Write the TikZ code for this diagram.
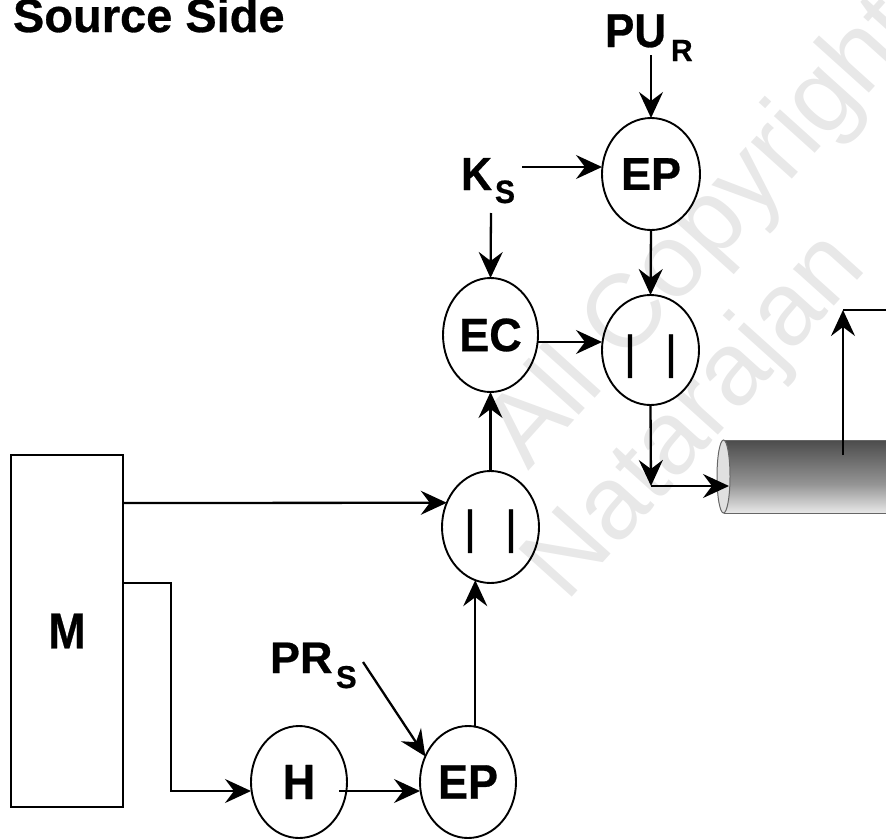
\documentclass[tikz,border=0pt]{standalone}
\usepackage{fontspec}
\setmainfont{Liberation Sans}
\newfontfamily\heavy{Liberation Sans}[BoldFeatures={FakeBold=0.6}]
\newfontfamily\barfont{Liberation Sans}[FakeBold=1.2]
\usetikzlibrary{arrows.meta,shapes.geometric,calc}
\pgfdeclareverticalshading{cylshade}{100bp}{color(0bp)=(black!50); color(8bp)=(black!28); color(22bp)=(black!4); color(45bp)=(black!42); color(80bp)=(black!75); color(100bp)=(black!85)}
\newcommand\lbl[3]{\scalebox{1}[#2]{\fontsize{#1}{#1}\selectfont\heavy\bfseries #3}}
\newcommand\bars[1]{\smash{\raisebox{#1}{\fontsize{46}{46}\selectfont\barfont |\hspace{29pt}|}}}
\begin{document}
\begin{tikzpicture}[x=1pt,y=-1pt,
  lab/.style={inner sep=0pt,outer sep=0pt,anchor=base west},
  circ/.style={draw,ellipse,line width=1.9pt,inner sep=0pt,outer sep=0pt},
  arr/.style={line width=2.3pt,-{Stealth[length=26pt,width=24pt,inset=9pt]}},
  ln/.style={line width=2.3pt},
  wm/.style={text=black!9,inner sep=0pt,anchor=base west,font=\fontsize{104}{104}\selectfont}]
\useasboundingbox (0,0) rectangle (886,838);
% watermark
\node[wm,rotate=48] (wm1) at (528,472) {All Copyright};
\node[wm,rotate=48] (wm2) at (566,604) {Natarajan};
% title
\node[lab] (title) at (13,32) {\lbl{47}{1.0}{Source Side}};
% M box
\node[draw,line width=2.4pt,minimum width=112pt,minimum height=352pt,inner sep=0pt] (M) at (67,631) {\lbl{45}{1.12}{M}};
% ellipses
\node[circ,minimum width=98pt,minimum height=112pt] (EPu) at (651,174) {\lbl{45}{1.02}{EP}};
\node[circ,minimum width=97pt,minimum height=110pt] (ORu) at (650.5,350) {\bars{-18pt}};
\node[circ,minimum width=95pt,minimum height=114pt] (EC) at (490.5,335) {\lbl{45}{1.04}{EC}};
\node[circ,minimum width=97pt,minimum height=112pt] (ORl) at (490.5,527) {\bars{-16pt}};
\node[circ,minimum width=96pt,minimum height=112pt] (H) at (299,782) {\lbl{45}{1.1}{H}};
\node[circ,minimum width=96pt,minimum height=112pt] (EPl) at (468,782) {\lbl{45}{1.08}{EP}};
% labels
\node[lab] (PU) at (605,47) {\lbl{44}{1.08}{PU}};
\node[lab] (PUsub) at (671,61) {\lbl{30}{1.02}{R}};
\node[lab] (K) at (461,190) {\lbl{43}{1.08}{K}};
\node[lab] (Ksub) at (495,203) {\lbl{30}{1.08}{S}};
\node[lab] (PR) at (270,673) {\lbl{45}{0.98}{PR}};
\node[lab] (PRsub) at (336,688) {\lbl{31}{1.02}{S}};
% cylinder
\node[rectangle,inner sep=0pt,outer sep=0pt,minimum width=180pt,minimum height=73pt,anchor=west,shading=cylshade] (cyl) at (723.5,476.5) {};
\draw[black!60,line width=1pt] (cyl.north west) -- (cyl.north east) (cyl.south west) -- (cyl.south east);
\draw[black!60,line width=1pt,fill=black!12] (cyl.west) ellipse [x radius=6.5pt,y radius=36.5pt];
% coordinates
\coordinate (PUa) at (651,55);
\coordinate (Ka) at (522,167);
\coordinate (Kb) at (491,213);
\coordinate (C1) at (651,486);
\coordinate (CylIn) at (729,486);
\coordinate (Up0) at (843,455);
\coordinate (Up1) at (843,310);
\coordinate (Out) at (890,310);
\coordinate (PRa) at (363,662);
\coordinate (Mt) at (123,503);
\coordinate (Mb) at (123,583);
\coordinate (B1) at (171,583);
\coordinate (B2) at (171,791);
\coordinate (Hs) at (339,791);
% connectors
\draw[arr] (PUa) -- (EPu.north);
\draw[arr] (Ka) -- (Ka -| EPu.west);
\draw[arr] (Kb) -- (EC.north);
\draw[arr] ([yshift=-7pt]EC.east) -- ([yshift=-7pt]EC.east -| ORu.west);
\draw[arr] (EPu.south) -- (ORu.north);
\draw[arr] (ORu.south) -- (C1);
\draw[arr] (C1) -- (CylIn);
\draw[arr] (Up0) -- (Up1);
\draw[ln] (Up1) -- (Out);
\draw[arr] (Mt) -- (ORl.151);
\draw[arr] (Mb) -- (B1) -- (B2) -- (B2 -| H.west);
\draw[arr] (Hs) -- (Hs -| EPl.west);
\draw[arr] (ORl.254 |- EPl.north) -- (ORl.254);
\draw[arr] (ORl.north) -- (EC.south);
\draw[arr] (PRa) -- (EPl.149);
\end{tikzpicture}
\end{document}
